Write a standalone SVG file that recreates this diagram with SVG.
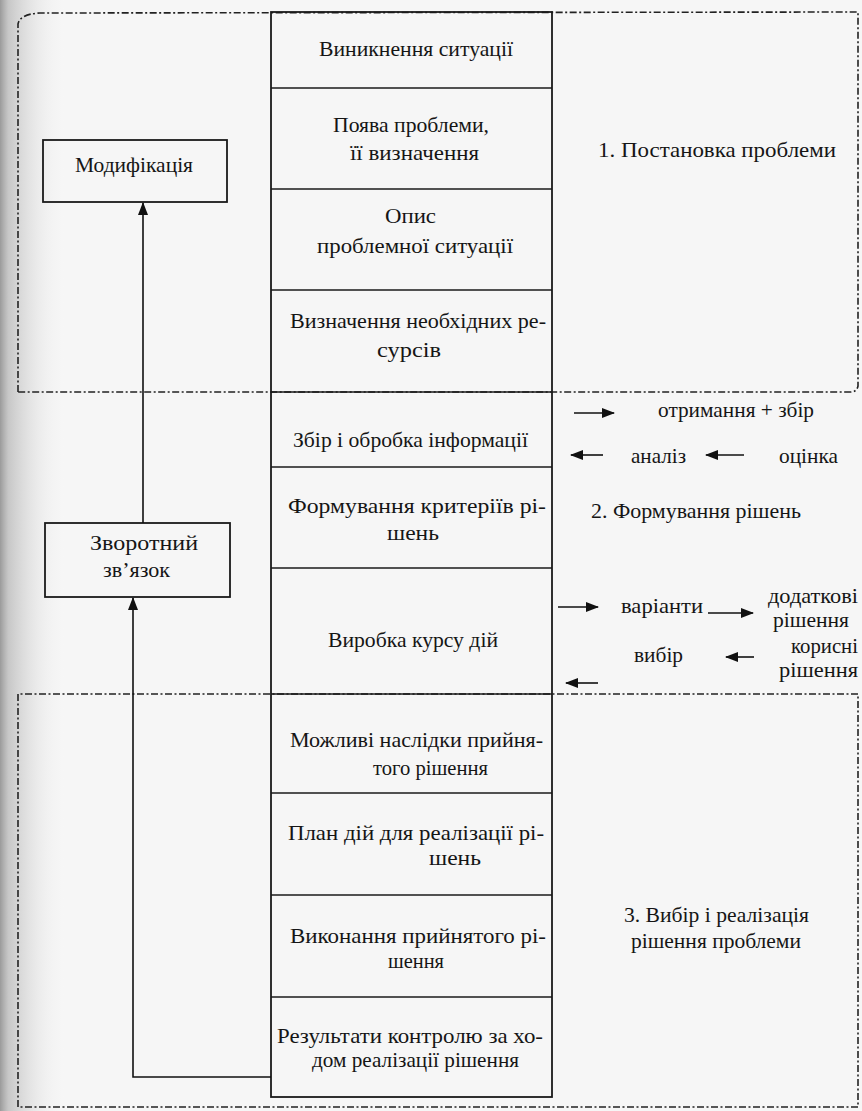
<svg xmlns="http://www.w3.org/2000/svg" width="862" height="1111" viewBox="0 0 862 1111">
  <defs>
    <linearGradient id="edgeShade" x1="0" y1="0" x2="1" y2="0">
      <stop offset="0" stop-color="#8a8a8a" stop-opacity="0.85"/>
      <stop offset="0.12" stop-color="#a8a8a8" stop-opacity="0.6"/>
      <stop offset="0.5" stop-color="#d0d0d0" stop-opacity="0.35"/>
      <stop offset="1" stop-color="#ffffff" stop-opacity="0"/>
    </linearGradient>
    <marker id="arrowHead" viewBox="0 0 13 10" refX="12" refY="5" markerWidth="13" markerHeight="10" markerUnits="userSpaceOnUse" orient="auto">
      <path d="M0,0 L13,5 L0,10 Z" fill="#111"/>
    </marker>
  </defs>
  <style>
    text { font-family: "Liberation Serif", "DejaVu Serif", serif; font-size: 21.5px; fill: #151515; }
    .box { fill: none; stroke: #1a1a1a; stroke-width: 1.8; }
    .rule { stroke: #1a1a1a; stroke-width: 1.6; fill: none; }
    .zone { fill: none; stroke: #222; stroke-width: 1.6; stroke-dasharray: 7 2.5 2 2.5; }
    .link { stroke: #111; stroke-width: 1.6; fill: none; }
  </style>

  <!-- paper -->
  <rect x="0" y="0" width="862" height="1111" fill="#f6f6f6"/>
  <rect x="0" y="0" width="70" height="1111" fill="url(#edgeShade)"/>

  <!-- stage zones -->
  <g id="zones">
    <path class="zone" d="M18,392 L18,24 Q20,14 40,13 L858,12 L858,386 Q857,392 850,392 Z"/>
    <path class="zone" d="M18,1107 L18,694 L858,694 L858,1107 Z"/>
  </g>

  <!-- central process column -->
  <g id="column">
    <rect class="box" x="271" y="12" width="281" height="1085"/>
    <line class="rule" x1="271" y1="88" x2="552" y2="88"/>
    <line class="rule" x1="271" y1="189" x2="552" y2="189"/>
    <line class="rule" x1="271" y1="290" x2="552" y2="290"/>
    <line class="rule" x1="271" y1="392" x2="552" y2="392"/>
    <line class="rule" x1="271" y1="467" x2="552" y2="467"/>
    <line class="rule" x1="271" y1="568" x2="552" y2="568"/>
    <line class="rule" x1="271" y1="694" x2="552" y2="694"/>
    <line class="rule" x1="271" y1="793" x2="552" y2="793"/>
    <line class="rule" x1="271" y1="895" x2="552" y2="895"/>
    <line class="rule" x1="271" y1="997" x2="552" y2="997"/>
  </g>

  <g id="step-1">
    <text x="319" y="56" textLength="194" lengthAdjust="spacingAndGlyphs">Виникнення ситуації</text>
  </g>
  <g id="step-2">
    <text x="333" y="132" textLength="156" lengthAdjust="spacingAndGlyphs">Поява проблеми,</text>
    <text x="350" y="160" textLength="129" lengthAdjust="spacingAndGlyphs">її визначення</text>
  </g>
  <g id="step-3">
    <text x="385" y="223" textLength="51" lengthAdjust="spacingAndGlyphs">Опис</text>
    <text x="317" y="253" textLength="196" lengthAdjust="spacingAndGlyphs">проблемної ситуації</text>
  </g>
  <g id="step-4">
    <text x="290" y="328" textLength="256" lengthAdjust="spacingAndGlyphs">Визначення необхідних ре-</text>
    <text x="377" y="357" textLength="64" lengthAdjust="spacingAndGlyphs">сурсів</text>
  </g>
  <g id="step-5">
    <text x="293" y="447" textLength="235" lengthAdjust="spacingAndGlyphs">Збір і обробка інформації</text>
  </g>
  <g id="step-6">
    <text x="288" y="513" textLength="258" lengthAdjust="spacingAndGlyphs">Формування критеріїв рі-</text>
    <text x="387" y="540" textLength="52" lengthAdjust="spacingAndGlyphs">шень</text>
  </g>
  <g id="step-7">
    <text x="328" y="647" textLength="170" lengthAdjust="spacingAndGlyphs">Виробка курсу дій</text>
  </g>
  <g id="step-8">
    <text x="290" y="747" textLength="253" lengthAdjust="spacingAndGlyphs">Можливі наслідки прийня-</text>
    <text x="373" y="775" textLength="115" lengthAdjust="spacingAndGlyphs">того рішення</text>
  </g>
  <g id="step-9">
    <text x="288" y="840" textLength="256" lengthAdjust="spacingAndGlyphs">План дій для реалізації рі-</text>
    <text x="429" y="865" textLength="52" lengthAdjust="spacingAndGlyphs">шень</text>
  </g>
  <g id="step-10">
    <text x="290" y="943" textLength="256" lengthAdjust="spacingAndGlyphs">Виконання прийнятого рі-</text>
    <text x="388" y="968" textLength="56" lengthAdjust="spacingAndGlyphs">шення</text>
  </g>
  <g id="step-11">
    <text x="277" y="1043" textLength="266" lengthAdjust="spacingAndGlyphs">Результати контролю за хо-</text>
    <text x="312" y="1067" textLength="207" lengthAdjust="spacingAndGlyphs">дом реалізації рішення</text>
  </g>

  <!-- side boxes -->
  <g id="modification">
    <rect class="box" x="43" y="140" width="184" height="62"/>
    <text x="75" y="172" textLength="118" lengthAdjust="spacingAndGlyphs">Модифікація</text>
  </g>
  <g id="feedback">
    <rect class="box" x="45" y="523" width="185" height="74"/>
    <text x="90" y="550" textLength="108" lengthAdjust="spacingAndGlyphs">Зворотний</text>
    <text x="103" y="577" textLength="67" lengthAdjust="spacingAndGlyphs">зв’язок</text>
  </g>

  <!-- stage labels -->
  <g id="stage-1">
    <text x="598" y="157" textLength="238" lengthAdjust="spacingAndGlyphs">1. Постановка проблеми</text>
  </g>
  <g id="stage-2">
    <text x="591" y="518" textLength="210" lengthAdjust="spacingAndGlyphs">2. Формування рішень</text>
  </g>
  <g id="stage-3">
    <text x="624" y="922" textLength="185" lengthAdjust="spacingAndGlyphs">3. Вибір і реалізація</text>
    <text x="631" y="948" textLength="170" lengthAdjust="spacingAndGlyphs">рішення проблеми</text>
  </g>

  <!-- information flow labels -->
  <g id="info-labels">
    <text x="658" y="417" textLength="156" lengthAdjust="spacingAndGlyphs">отримання + збір</text>
    <text x="631" y="463" textLength="55" lengthAdjust="spacingAndGlyphs">аналіз</text>
    <text x="779" y="463" textLength="59" lengthAdjust="spacingAndGlyphs">оцінка</text>
  </g>
  <g id="decision-labels">
    <text x="621" y="613" textLength="82" lengthAdjust="spacingAndGlyphs">варіанти</text>
    <text x="768" y="603" textLength="90" lengthAdjust="spacingAndGlyphs">додаткові</text>
    <text x="773" y="627" textLength="76" lengthAdjust="spacingAndGlyphs">рішення</text>
    <text x="791" y="653" textLength="67" lengthAdjust="spacingAndGlyphs">корисні</text>
    <text x="779" y="677" textLength="79" lengthAdjust="spacingAndGlyphs">рішення</text>
    <text x="634" y="662" textLength="49" lengthAdjust="spacingAndGlyphs">вибір</text>
  </g>

  <!-- connectors -->
  <g id="connectors">
    <line class="link" x1="143" y1="523" x2="143" y2="203" marker-end="url(#arrowHead)"/>
    <polyline class="link" points="271,1077 133,1077 133,598" marker-end="url(#arrowHead)"/>
    <line class="link" x1="574" y1="413" x2="614" y2="413" marker-end="url(#arrowHead)"/>
    <line class="link" x1="603" y1="455" x2="571" y2="455" marker-end="url(#arrowHead)"/>
    <line class="link" x1="744" y1="455" x2="706" y2="455" marker-end="url(#arrowHead)"/>
    <line class="link" x1="558" y1="607" x2="598" y2="607" marker-end="url(#arrowHead)"/>
    <line class="link" x1="708" y1="613" x2="753" y2="613" marker-end="url(#arrowHead)"/>
    <line class="link" x1="754" y1="657" x2="726" y2="657" marker-end="url(#arrowHead)"/>
    <line class="link" x1="598" y1="683" x2="566" y2="683" marker-end="url(#arrowHead)"/>
  </g>
</svg>
